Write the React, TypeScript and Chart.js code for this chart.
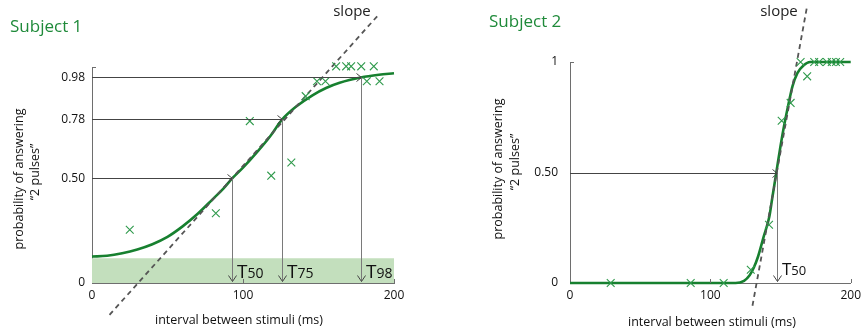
import React, { useEffect, useRef } from "react";
import { Chart, registerables } from "chart.js";
Chart.register(...registerables);

// ---------- Subject 1 data ----------
const s1CurveX = [0, 10, 20, 30, 40, 50, 60, 70, 80, 87, 93, 100, 110, 118, 126, 135, 146, 155, 164, 178, 190, 200];
const s1CurveY = [0.126, 0.13, 0.142, 0.16, 0.185, 0.22, 0.27, 0.33, 0.4, 0.45, 0.5, 0.55, 0.63, 0.7, 0.78, 0.84, 0.895, 0.93, 0.955, 0.98, 0.993, 1.0];
const s1PointsX = [25, 82, 104.5, 118.7, 132, 141.5, 149, 154.6, 161.7, 168.3, 171.6, 178.3, 186.6, 182, 190.4];
const s1PointsY = [0.254, 0.333, 0.772, 0.512, 0.575, 0.891, 0.962, 0.962, 1.033, 1.033, 1.033, 1.033, 1.033, 0.962, 0.962];
const s1SlopeX = [11.6, 189];
const s1SlopeY = [-0.152, 1.273];
const s1BandTop = 0.118;
const s1ThreshX = [93, 126, 178];
const s1ThreshY = [0.5, 0.78, 0.98];
const s1ThreshLabels = ["50", "75", "98"];
const s1YTicks = [0, 0.5, 0.78, 0.98];
const s1YTickLabels = ["0", "0.50", "0.78", "0.98"];

// ---------- Subject 2 data ----------
const s2CurveX = [0, 118, 124, 128, 131, 134, 138, 142, 144, 147, 150, 152.5, 156, 158.5, 162, 166.5, 171, 200];
const s2CurveY = [0, 0, 0.01, 0.035, 0.07, 0.12, 0.21, 0.3, 0.38, 0.5, 0.62, 0.71, 0.82, 0.89, 0.95, 0.985, 1.0, 1.0];
const s2PointsX = [29, 86, 109.5, 128.8, 141.8, 150.8, 157.2, 164.3, 169, 174, 177.5, 183, 186.5, 189.5, 192.5];
const s2PointsY = [0, 0, 0, 0.06, 0.264, 0.734, 0.815, 1.0, 0.935, 1, 1, 1, 1, 1, 1];
const s2SlopeX = [130, 169];
const s2SlopeY = [-0.103, 1.255];
const s2ThreshX = [147.5];
const s2ThreshY = [0.5];
const s2ThreshLabels = ["50"];
const s2YTicks = [0, 0.5, 1];
const s2YTickLabels = ["0", "0.50", "1"];

const xTicks = [0, 100, 200];
const xTickLabels = ["0", "100", "200"];

const FONT = "'Open Sans', 'DejaVu Sans', sans-serif";
const GREEN_LINE = "#17802f";
const GREEN_PT = "#2f9a4c";
const GREEN_TITLE = "#1f8a3a";
const BAND = "#c3dfbd";
const AXIS = "#6e6e6e";

type Txt = { text: string; x: number; y: number; size: number; color: string; align?: CanvasTextAlign; rot?: boolean };

type PanelCfg = {
  offsetX: number;
  padTop: number;
  padRight: number;
  yWidth: number;
  yMax: number;
  yPad: number;
  curveX: number[];
  curveY: number[];
  ptsX: number[];
  ptsY: number[];
  slopeX: number[];
  slopeY: number[];
  band: number | null;
  thX: number[];
  thY: number[];
  thLabels: string[];
  tSize: number;
  dSize: number;
  tBaseOffset: number;
  yTicks: number[];
  yTickLabels: string[];
  texts: Txt[];
};

function zip(xs: number[], ys: number[]) {
  return xs.map((x, i) => ({ x, y: ys[i] }));
}

function Panel({ cfg }: { cfg: PanelCfg }) {
  const ref = useRef<HTMLCanvasElement | null>(null);
  useEffect(() => {
    if (!ref.current) return;
    const annot = {
      id: "annot",
      afterDatasetsDraw(chart: any) {
        const ctx = chart.ctx as CanvasRenderingContext2D;
        const xs = chart.scales.x;
        const ys = chart.scales.y;
        const y0 = ys.getPixelForValue(0);
        ctx.save();
        ctx.lineWidth = 1;
        cfg.thX.forEach((tx, i) => {
          const px = Math.round(xs.getPixelForValue(tx)) + 0.5;
          const py = Math.round(ys.getPixelForValue(cfg.thY[i])) + 0.5;
          const ax = xs.getPixelForValue(0);
          // horizontal arrow
          ctx.strokeStyle = "#444";
          ctx.beginPath();
          ctx.moveTo(ax, py);
          ctx.lineTo(px, py);
          ctx.stroke();
          ctx.beginPath();
          ctx.moveTo(px - 5, py - 4);
          ctx.lineTo(px, py);
          ctx.lineTo(px - 5, py + 4);
          ctx.stroke();
          // vertical arrow
          ctx.strokeStyle = "#7a7a7a";
          const by = y0 - 1.5;
          ctx.beginPath();
          ctx.moveTo(px, py);
          ctx.lineTo(px, by);
          ctx.stroke();
          ctx.strokeStyle = "#444";
          ctx.beginPath();
          ctx.moveTo(px - 4, by - 6);
          ctx.lineTo(px, by);
          ctx.lineTo(px + 4, by - 6);
          ctx.stroke();
          // T label
          ctx.fillStyle = "#111";
          ctx.textAlign = "left";
          ctx.textBaseline = "alphabetic";
          const base = y0 - cfg.tBaseOffset;
          ctx.font = `${cfg.tSize}px ${FONT}`;
          const tx0 = px + 4.5;
          ctx.fillText("T", tx0, base);
          const tw = ctx.measureText("T").width;
          ctx.font = `${cfg.dSize}px ${FONT}`;
          ctx.fillText(cfg.thLabels[i], tx0 + tw, base);
        });
        // inner ticks
        ctx.strokeStyle = AXIS;
        [100, 200].forEach((v) => {
          const px = Math.round(xs.getPixelForValue(v)) + 0.5;
          ctx.beginPath();
          ctx.moveTo(px, y0);
          ctx.lineTo(px, y0 - 4);
          ctx.stroke();
        });
        const topY = Math.round(ys.getPixelForValue(cfg.yMax)) + 0.5;
        const lx = xs.getPixelForValue(0);
        ctx.beginPath();
        ctx.moveTo(lx, topY);
        ctx.lineTo(lx + 4, topY);
        ctx.stroke();
        ctx.restore();
      },
      afterDraw(chart: any) {
        const ctx = chart.ctx as CanvasRenderingContext2D;
        ctx.save();
        cfg.texts.forEach((t) => {
          ctx.font = `${t.size}px ${FONT}`;
          ctx.fillStyle = t.color;
          ctx.textAlign = t.align || "center";
          ctx.textBaseline = "middle";
          const x = t.x - cfg.offsetX;
          if (t.rot) {
            ctx.save();
            ctx.translate(x, t.y);
            ctx.rotate(-Math.PI / 2);
            ctx.fillText(t.text, 0, 0);
            ctx.restore();
          } else {
            ctx.fillText(t.text, x, t.y);
          }
        });
        ctx.restore();
      },
    };

    const datasets: any[] = [
      {
        label: "points",
        data: zip(cfg.ptsX, cfg.ptsY),
        showLine: false,
        pointStyle: "crossRot",
        pointRadius: 5.5,
        pointBorderColor: GREEN_PT,
        pointBorderWidth: 1.1,
        borderColor: GREEN_PT,
        clip: false,
      },
      {
        label: "slope",
        data: zip(cfg.slopeX, cfg.slopeY),
        borderColor: "#555",
        borderWidth: 1.8,
        borderDash: [5, 4],
        pointRadius: 0,
        clip: false,
      },
      {
        label: "curve",
        data: zip(cfg.curveX, cfg.curveY),
        borderColor: GREEN_LINE,
        borderWidth: 2.6,
        pointRadius: 0,
        cubicInterpolationMode: "monotone",
        clip: false,
      },
    ];
    if (cfg.band !== null) {
      datasets.push({
        label: "band",
        data: [
          { x: 0, y: cfg.band },
          { x: 200, y: cfg.band },
        ],
        borderWidth: 0,
        borderColor: BAND,
        backgroundColor: BAND,
        fill: "origin",
        pointRadius: 0,
      });
    }

    const chart = new Chart(ref.current, {
      type: "line",
      data: { datasets },
      plugins: [annot],
      options: {
        responsive: false,
        animation: false,
        devicePixelRatio: 1,
        layout: { padding: { top: cfg.padTop, right: cfg.padRight, left: 0, bottom: 0 } },
        plugins: { legend: { display: false }, tooltip: { enabled: false } },
        scales: {
          x: {
            type: "linear",
            min: 0,
            max: 200,
            afterBuildTicks: (s: any) => {
              s.ticks = xTicks.map((v) => ({ value: v }));
            },
            afterFit: (s: any) => {
              s.height = 49;
            },
            ticks: {
              padding: 5,
              color: "#111",
              font: { family: FONT, size: 12 },
              maxRotation: 0,
              autoSkip: false,
              callback: (v: any) => xTickLabels[xTicks.indexOf(v)] ?? "",
            },
            grid: { display: false, drawTicks: false },
            border: { display: true, color: AXIS, width: 1 },
          },
          y: {
            type: "linear",
            min: 0,
            max: cfg.yMax,
            afterBuildTicks: (s: any) => {
              s.ticks = cfg.yTicks.map((v) => ({ value: v }));
            },
            afterFit: (s: any) => {
              s.width = cfg.yWidth;
            },
            ticks: {
              padding: cfg.yPad,
              color: "#111",
              font: { family: FONT, size: 12 },
              autoSkip: false,
              callback: (v: any) => cfg.yTickLabels[cfg.yTicks.indexOf(v)] ?? "",
            },
            grid: { display: false, drawTicks: false },
            border: { display: true, color: AXIS, width: 1 },
          },
        },
      } as any,
    });
    return () => chart.destroy();
  }, [cfg]);
  return <canvas ref={ref} width={433} height={332} style={{ display: "block", width: 433, height: 332 }} />;
}

const leftCfg: PanelCfg = {
  offsetX: 0,
  padTop: 67,
  padRight: 39,
  yWidth: 92,
  yMax: 1.03,
  yPad: 7,
  curveX: s1CurveX,
  curveY: s1CurveY,
  ptsX: s1PointsX,
  ptsY: s1PointsY,
  slopeX: s1SlopeX,
  slopeY: s1SlopeY,
  band: s1BandTop,
  thX: s1ThreshX,
  thY: s1ThreshY,
  thLabels: s1ThreshLabels,
  tSize: 19,
  dSize: 14,
  tBaseOffset: 5,
  yTicks: s1YTicks,
  yTickLabels: s1YTickLabels,
  texts: [
    { text: "Subject 1", x: 10, y: 27, size: 17, color: GREEN_TITLE, align: "left" },
    { text: "slope", x: 352, y: 12, size: 15, color: "#222" },
    { text: "interval between stimuli (ms)", x: 239, y: 320, size: 12.5, color: "#111" },
    { text: "probability of answering", x: 19, y: 179, size: 12.5, color: "#111", rot: true },
    { text: "\u201C2 pulses\u201D", x: 35, y: 172, size: 12.5, color: "#111", rot: true },
  ],
};

const rightCfg: PanelCfg = {
  offsetX: 433,
  padTop: 62,
  padRight: 14,
  yWidth: 137,
  yMax: 1.0,
  yPad: 12,
  curveX: s2CurveX,
  curveY: s2CurveY,
  ptsX: s2PointsX,
  ptsY: s2PointsY,
  slopeX: s2SlopeX,
  slopeY: s2SlopeY,
  band: null,
  thX: s2ThreshX,
  thY: s2ThreshY,
  thLabels: s2ThreshLabels,
  tSize: 17,
  dSize: 13,
  tBaseOffset: 8,
  yTicks: s2YTicks,
  yTickLabels: s2YTickLabels,
  texts: [
    { text: "Subject 2", x: 489, y: 22, size: 17, color: GREEN_TITLE, align: "left" },
    { text: "slope", x: 779, y: 12, size: 15, color: "#222" },
    { text: "interval between stimuli (ms)", x: 712, y: 322, size: 12.5, color: "#111" },
    { text: "probability of answering", x: 498, y: 169, size: 12.5, color: "#111", rot: true },
    { text: "\u201C2 pulses\u201D", x: 515, y: 162, size: 12.5, color: "#111", rot: true },
  ],
};

export default function App() {
  return (
    <div style={{ position: "absolute", left: 0, top: 0, width: 866, height: 332, display: "flex", background: "#fff" }}>
      <Panel cfg={leftCfg} />
      <Panel cfg={rightCfg} />
    </div>
  );
}
